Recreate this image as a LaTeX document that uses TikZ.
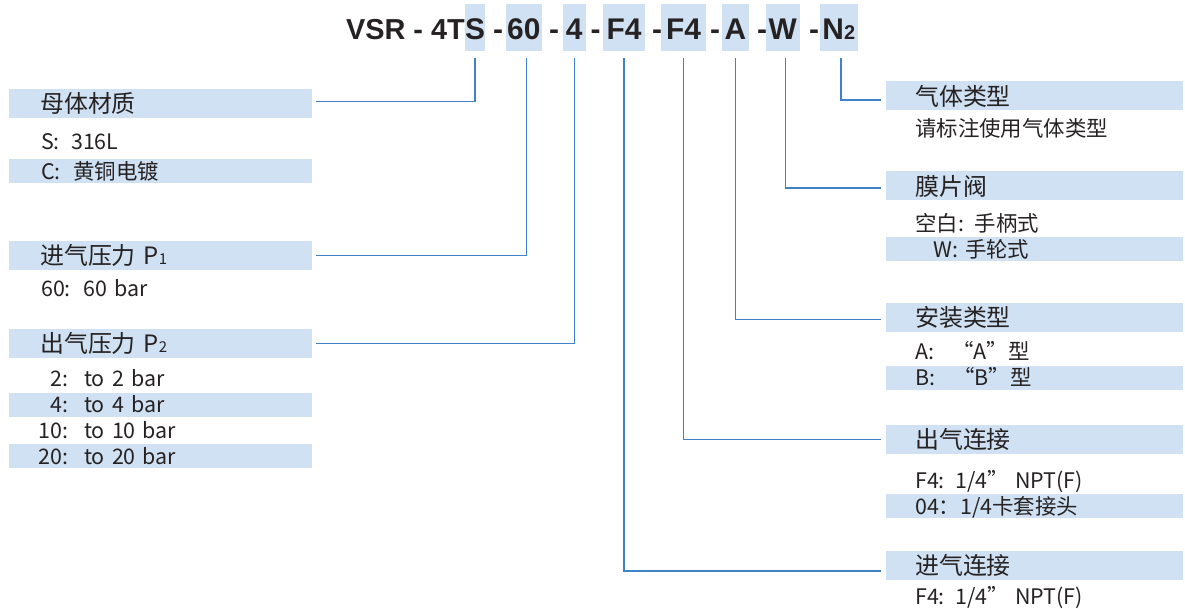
\documentclass[tikz,border=0pt]{standalone}
\usepackage{fontspec}
\setmainfont{Noto Sans CJK SC}
\newfontfamily\codefont{Liberation Sans}
\usepackage{tikz}
\usetikzlibrary{positioning}
\definecolor{codeblue}{RGB}{207,225,242}
\definecolor{wireblue}{RGB}{62,130,200}
\definecolor{inkgrey}{RGB}{38,34,35}

\begin{document}
\begin{tikzpicture}[
    x=1bp, y=-1bp,
    every node/.style={text=inkgrey},
    code/.style={fill=codeblue, inner sep=0pt, minimum height=47bp,
                 text height=25bp, text depth=0pt,
                 font=\codefont\bfseries\fontsize{30}{30}\selectfont},
    codetxt/.style={inner sep=0pt, anchor=base,
                    font=\codefont\bfseries\fontsize{30}{30}\selectfont},
    lhead/.style={anchor=west, fill=codeblue, minimum height=29bp,
                  text width=241bp, align=left, inner xsep=31bp, inner ysep=0pt,
                  text height=18.2bp, text depth=0pt,
                  font=\fontsize{24}{28}\selectfont},
    lrow/.style={anchor=west, minimum height=24bp,
                 text width=239bp, align=left, inner xsep=32bp, inner ysep=0pt,
                 text height=16.3bp, text depth=0pt,
                 font=\fontsize{21.5}{24}\selectfont},
    lrowhi/.style={lrow, fill=codeblue},
    rhead/.style={lhead, text width=239bp, inner xsep=29bp},
    rrow/.style={lrow, text width=239bp, inner xsep=29bp},
    rrowhi/.style={rrow, fill=codeblue},
    wire/.style={wireblue, line width=1.4bp}
]
\useasboundingbox (0,0) rectangle (1185,609);

% model code
\node[codetxt, anchor=base east, font=\codefont\bfseries\fontsize{29}{29}\selectfont]
    (cvsr) at (465,40) {VSR - 4T};
\node[code, minimum width=20bp]   (cS)   at (475,27.5)   {S};
\node[codetxt] (d1) at (498,40) {-};
\node[code, minimum width=36.5bp] (c60)  at (523.75,27.5) {60};
\node[codetxt] (d2) at (554,40) {-};
\node[code, minimum width=22.6bp] (c4)   at (574.3,27.5) {4};
\node[codetxt] (d3) at (595.5,40) {-};
\node[code, minimum width=42bp]   (cFin) at (624,27.5)   {F4};
\node[codetxt] (d4) at (657,40) {-};
\node[code, minimum width=45bp]   (cFout) at (683.5,27.5) {F4};
\node[codetxt] (d5) at (715,40) {-};
\node[code, minimum width=27bp]   (cA)   at (735.5,27.5) {A};
\node[codetxt] (d6) at (762,40) {-};
\node[code, minimum width=33.5bp] (cW)   at (782.75,27.5) {W};
\node[codetxt] (d7) at (814,40) {-};
\node[code, minimum width=37.6bp] (cN)   at (838.8,27.5) {N{\fontsize{20}{20}\selectfont 2}};

% left column
\node[lhead]  (mat)    at (9,103.5) {母体材质};
\node[lrow]   (matS)   at (9,141.5) {\makebox[30bp][l]{S:}316L};
\node[lrowhi] (matC)   at (9,171)   {\makebox[32bp][l]{C:}黄铜电镀};
\node[lhead]  (pin)    at (9,255.5) {进气压力 P{\fontsize{15}{15}\selectfont 1}};
\node[lrow]   (pin60)  at (9,288)   {\makebox[42bp][l]{60:}60 bar};
\node[lhead]  (pout)   at (9,343.5) {出气压力 P{\fontsize{15}{15}\selectfont 2}};
\node[lrow]   (pout2)  at (9,378.7) {\makebox[27bp][r]{2:}\hspace{16bp}to 2 bar};
\node[lrowhi] (pout4)  at (9,404.7) {\makebox[27bp][r]{4:}\hspace{16bp}to 4 bar};
\node[lrow]   (pout10) at (9,430.5) {\makebox[27bp][r]{10:}\hspace{16bp}to 10 bar};
\node[lrowhi] (pout20) at (9,456)   {\makebox[27bp][r]{20:}\hspace{16bp}to 20 bar};

% right column
\node[rhead]  (gas)     at (886,96)    {气体类型};
\node[rrow]   (gasnote) at (886,128.5) {请标注使用气体类型};
\node[rhead]  (valve)   at (886,186)   {膜片阀};
\node[rrow]   (valveH)  at (886,223)   {空白: 手柄式};
\node[rrowhi] (valveW)  at (886,249)   {\hspace*{18bp}W: 手轮式};
\node[rhead]  (mount)   at (886,317.5) {安装类型};
\node[rrow]   (mountA)  at (886,351.7) {A:\hspace{18bp}“A”型};
\node[rrowhi] (mountB)  at (886,377.5) {B:\hspace{18bp}“B”型};
\node[rhead]  (outc)    at (886,439.5) {出气连接};
\node[rrow]   (outcF)   at (886,480)   {F4: 1/4”\hspace{6bp}NPT(F)};
\node[rrowhi] (outc04)  at (886,506)   {04：1/4卡套接头};
\node[rhead]  (inc)     at (886,565.5) {进气连接};
\node[rrow]   (incF)    at (886,596)   {F4: 1/4”\hspace{6bp}NPT(F)};

% connectors
\draw[wire] ([yshift=-7bp]cS.south) |- ([xshift=4bp, yshift=2bp]mat.east);
\draw[wire] ([xshift=3bp, yshift=-7bp]c60.south) |- ([xshift=4bp]pin.east);
\draw[wire] ([yshift=-7bp]c4.south) |- ([xshift=4bp]pout.east);
\draw[wire] ([yshift=-7bp]cFin.south) |- ([xshift=-5bp, yshift=-5.5bp]inc.west);
\draw[wire] ([yshift=-7bp]cFout.south) |- ([xshift=-5bp]outc.west);
\draw[wire] ([yshift=-7bp]cA.south) |- ([xshift=-5bp, yshift=-2bp]mount.west);
\draw[wire] ([xshift=3bp, yshift=-7bp]cW.south) |- ([xshift=-5bp, yshift=-2bp]valve.west);
\draw[wire] ([xshift=2bp, yshift=-7bp]cN.south) |- ([xshift=-5bp, yshift=-4bp]gas.west);

\end{tikzpicture}
\end{document}
